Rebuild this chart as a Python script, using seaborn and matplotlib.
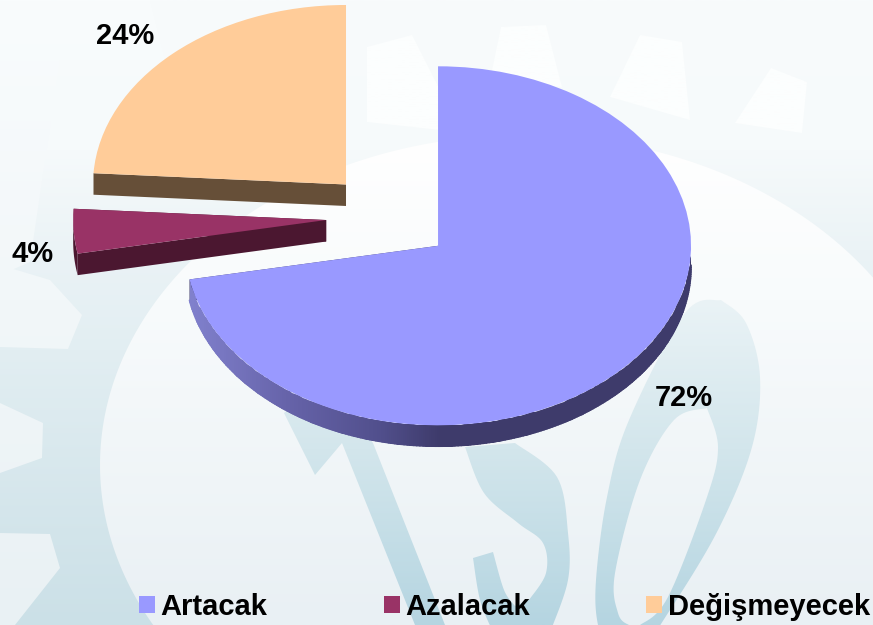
import numpy as np
import matplotlib
matplotlib.use("Agg")
import matplotlib.pyplot as plt
import seaborn as sns
from matplotlib.collections import LineCollection
from matplotlib.colors import LinearSegmentedColormap, to_rgb
from matplotlib.path import Path
from matplotlib.patches import PathPatch, Polygon

# ---- data ----
categories = ["Artacak", "Azalacak", "Değişmeyecek"]
values = [72, 4, 24]
top_colors = ["#9999FF", "#993366", "#FFCC99"]
side_colors = ["#3E3B6B", "#4B1730", "#664F38"]

sns.set_theme(style="white")
plt.rcParams["font.family"] = ["Liberation Sans", "DejaVu Sans"]
palette = sns.color_palette(top_colors)

W, H = 873, 625
RX, RY, DEPTH = 253.0, 179.5, 21.5      # pie radii and thickness, pixels
CX, CY = 389.3, 217.2                   # undisplaced pie centre, pixels
EXPLODE = [0.25, 0.25, 0.25]
LABEL_POS = [(684, 398), (33, 254), (125, 36)]

fig = plt.figure(figsize=(W / 100, H / 100), dpi=100)

# ---- background watermark, in pixel coordinates ----
bg = fig.add_axes([0, 0, 1, 1], zorder=0)
bg.set_xlim(0, W)
bg.set_ylim(H, 0)
bg.axis("off")


def gradient(stops, clip=None):
    cmap = LinearSegmentedColormap.from_list("g", [(y / H, c) for y, c in stops])
    im = bg.imshow(np.linspace(0, 1, 256)[:, None], cmap=cmap, aspect="auto",
                   extent=(0, W, H, 0), vmin=0, vmax=1, zorder=1)
    if clip is not None:
        patch = PathPatch(clip, transform=bg.transData, fc="none", ec="none")
        bg.add_patch(patch)
        im.set_clip_path(patch)
    bg.set_xlim(0, W)
    bg.set_ylim(H, 0)
    return im


def smooth(points, n=12):
    p = np.array(points, float)
    p = np.vstack([p[0], p, p[-1]])
    out = []
    for i in range(1, len(p) - 2):
        for t in np.linspace(0, 1, n, endpoint=False):
            a, b, c, d = p[i - 1], p[i], p[i + 1], p[i + 2]
            out.append(0.5 * (2 * b + (c - a) * t + (2 * a - 5 * b + 4 * c - d) * t ** 2
                              + (3 * b - a - 3 * c + d) * t ** 3))
    out.append(p[-2])
    return np.array(out)


def poly_path(points):
    pts = np.asarray(points, float)
    return Path(np.vstack([pts, pts[0]]), closed=True)


RING = [(0, "#F8FBFC"), (150, "#F6FAFB"), (250, "#EBF3F6"), (350, "#E2EEF2"), (625, "#CBE0E7")]
GAP = [(0, "#F9FCFD"), (300, "#F2F7F9"), (625, "#E9F1F4")]
DISC = [(0, "#FFFFFF"), (140, "#FFFFFF"), (300, "#F8FBFC"), (625, "#E9F0F4")]
INK = [(0, "#F8FBFC"), (300, "#EAF3F6"), (450, "#D3E6EC"), (625, "#B5D5E1")]

gradient(RING)
for g in [
    [(0, 0), (150, 0), (165, 60), (60, 60), (30, 262), (0, 275)],
    [(0, 265), (50, 280), (82, 315), (68, 349), (0, 347)],
    [(0, 403), (43, 423), (42, 458), (0, 473)],
    [(0, 533), (50, 534), (60, 568), (15, 625), (0, 625)],
]:
    gradient(GAP, poly_path(g))

# top teeth, almost white
for t in [
    [(367, 47), (412, 35), (440, 90), (440, 130), (367, 122)],
    [(501, 27), (546, 25), (562, 87), (490, 80)],
    [(640, 35), (682, 42), (690, 120), (610, 97)],
    [(771, 68), (807, 82), (802, 133), (735, 123)],
]:
    gradient([(0, "#FCFEFE"), (625, "#FCFEFE")], poly_path(t))

# central disc
tt = np.linspace(0, 2 * np.pi, 360)
gradient(DISC, poly_path(np.column_stack([524 + 424 * np.cos(tt), 465 + 330 * np.sin(tt)])))

# letters I, S, O
letter_i = [(284, 413), (315, 475), (342, 443), (415, 625), (445, 625),
            (373, 443), (360, 425), (300, 400)]
s_inner = smooth([(465, 447), (484, 493), (518, 523), (543, 543), (546, 573), (529, 600)])
s_tail = smooth([(515, 606), (504, 590), (493, 552)])
s_left = smooth([(473, 558), (480, 600), (492, 630)])
s_outer = smooth([(551, 630), (568, 580), (568, 533), (557, 477), (515, 443)])
letter_s = np.vstack([s_inner, s_tail, s_left, s_outer])
o_outer = smooth([(721, 300), (746, 323), (760, 377), (752, 447), (718, 530), (668, 613),
                  (640, 650), (610, 650), (598, 625), (596, 580), (607, 497), (629, 420),
                  (685, 313), (721, 300)])
o_inner = smooth([(707, 408), (718, 447), (707, 497), (668, 597), (640, 625), (629, 625),
                  (618, 613), (615, 573), (640, 480), (674, 420), (707, 408)])
for shape in (letter_i, letter_s):
    gradient(INK, poly_path(shape))
gradient(INK, Path.make_compound_path(poly_path(o_outer), poly_path(o_inner[::-1])))

# ---- pie ----
ax = fig.add_axes([0, 0, 1, 1], zorder=1)
ax.patch.set_alpha(0)
wedges, _ = ax.pie(values, colors=palette, startangle=90, counterclock=False,
                   explode=EXPLODE, wedgeprops={"linewidth": 0})
ax.set_aspect("auto")
ax.axis("off")

d = DEPTH / RY
rim_stops = [(180, "#8080CC"), (189, "#8080CC"), (290, "#6562A8"), (380, "#514F8C"),
             (440, "#3E3B6B"), (700, "#3E3B6B")]
rim_cmap = LinearSegmentedColormap.from_list("rim", [((x - 180) / 520, c) for x, c in rim_stops])
for w, side in zip(wedges, side_colors):
    cx, cy = w.center
    w.set_zorder(5)
    th = np.radians(np.linspace(w.theta1, w.theta2, 360))
    ex, ey = cx + np.cos(th), cy + np.sin(th)
    # straight cut faces
    for i in (0, -1):
        ax.add_patch(Polygon([(cx, cy), (ex[i], ey[i]), (ex[i], ey[i] - d), (cx, cy - d)],
                             fc=side, ec="none", lw=0, zorder=3))
    # outer rim: the part of the arc that faces the viewer
    m = np.sin(th) <= 0.01
    rim = np.vstack([np.column_stack([ex[m], ey[m]]),
                     np.column_stack([ex[m], ey[m] - d])[::-1]])
    if w is wedges[0]:
        patch = Polygon(rim, fc="none", ec="none", zorder=4)
        ax.add_patch(patch)
        xs = np.linspace(180, 700, 260)
        mesh = ax.pcolormesh((xs - CX) / RX, [(CY - 460) / RY, (CY - 230) / RY],
                             np.linspace(0, 1, 259)[None, :], cmap=rim_cmap, vmin=0, vmax=1,
                             shading="flat", zorder=4)
        mesh.set_clip_path(patch)
        # smooth the clipped lower edge
        lower = np.column_stack([ex[m], ey[m] - d + 0.6 / RY])
        segs = np.stack([lower[:-1], lower[1:]], axis=1)
        edge_x = CX + RX * lower[:-1, 0]
        ax.add_collection(LineCollection(segs, colors=rim_cmap((edge_x - 180) / 520),
                                         linewidths=1.2, zorder=4.5, capstyle="round"))
    else:
        ax.add_patch(Polygon(rim, fc=side, ec="none", lw=0, zorder=4))
ax.set_xlim(-CX / RX, (W - CX) / RX)
ax.set_ylim((CY - H) / RY, CY / RY)

# value labels
for v, (lx, ly) in zip(values, LABEL_POS):
    ax.text((lx - CX) / RX, (CY - ly) / RY, f"{v}%", ha="center", va="center",
            fontsize=21, fontweight="bold", color="black", zorder=6)

# legend
leg = ax.legend(wedges, categories, loc="lower left",
                bbox_to_anchor=(139 / W, 1 - 621 / H), bbox_transform=fig.transFigure,
                ncol=3, frameon=False, borderpad=0, borderaxespad=0,
                columnspacing=4.0, handlelength=0.55, handleheight=0.55, handletextpad=0.18,
                prop={"family": "Liberation Sans", "weight": "bold", "size": 21})
leg.set_zorder(7)
for t in leg.get_texts():
    t.set_color("black")

fig.savefig("out.png", dpi=100)
